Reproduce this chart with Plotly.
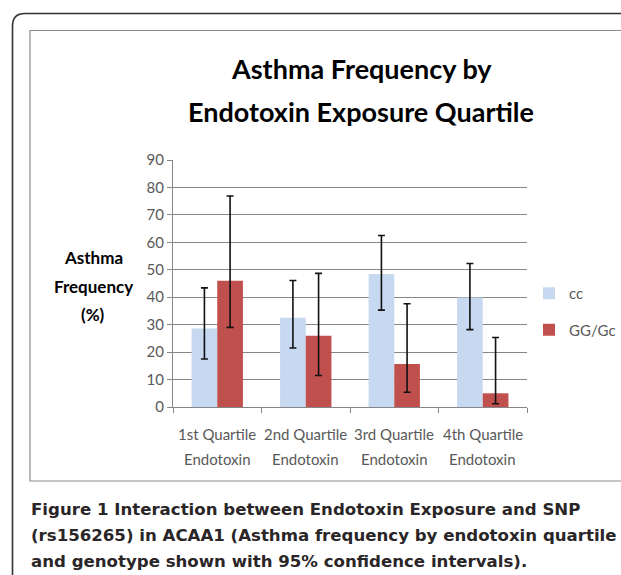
import plotly.graph_objects as go

# ---------------- data ----------------
categories = ["1st Quartile Endotoxin", "2nd Quartile Endotoxin",
              "3rd Quartile Endotoxin", "4th Quartile Endotoxin"]
tick_line1 = ["1st Quartile", "2nd Quartile", "3rd Quartile", "4th Quartile"]
tick_line2 = ["Endotoxin", "Endotoxin", "Endotoxin", "Endotoxin"]

cc_values = [28.6, 32.5, 48.5, 39.9]
cc_upper = [43.4, 46.1, 62.5, 52.3]
cc_lower = [17.5, 21.5, 35.3, 28.2]

gg_values = [46.0, 26.0, 15.7, 5.0]
gg_upper = [76.9, 48.7, 37.6, 25.3]
gg_lower = [29.0, 11.5, 5.4, 1.2]

series_names = ["cc", "GG/Gc"]
y_ticks = [0, 10, 20, 30, 40, 50, 60, 70, 80, 90]

title_lines = ["Asthma Frequency by", "Endotoxin Exposure Quartile"]
ylabel_lines = ["Asthma", "Frequency", "(%)"]
caption_lines = [
    "<b>Figure 1</b> Interaction between Endotoxin Exposure and SNP",
    "(rs156265) in ACAA1 (Asthma frequency by endotoxin quartile",
    "and genotype shown with 95% confidence intervals).",
]

# ---------------- layout geometry (pixels) ----------------
W, H = 621, 575
PL, PR, PT, PB = 173, 527, 160, 407


def xp(px):
    return (px - PL) / (PR - PL)


def yp(py):
    return (PB - py) / (PB - PT)


AXIS_GRAY = "#868686"
TEXT_GRAY = "#595959"
TICK_FONT = "Lato, Carlito, Calibri, sans-serif"
CAPTION_FONT = "DejaVu Sans, Open Sans, sans-serif"

fig = go.Figure()

fig.add_trace(go.Bar(
    name=series_names[0], x=categories, y=cc_values,
    marker=dict(color="#C6D9F1", line=dict(width=0)),
    error_y=dict(type="data", symmetric=False,
                 array=[u - v for u, v in zip(cc_upper, cc_values)],
                 arrayminus=[v - l for v, l in zip(cc_values, cc_lower)],
                 color="#111111", thickness=1.6, width=3.5),
    legendgroup="a",
))
fig.add_trace(go.Bar(
    name=series_names[1], x=categories, y=gg_values,
    marker=dict(color="#C0504D", line=dict(width=0)),
    error_y=dict(type="data", symmetric=False,
                 array=[u - v for u, v in zip(gg_upper, gg_values)],
                 arrayminus=[v - l for v, l in zip(gg_values, gg_lower)],
                 color="#111111", thickness=1.6, width=3.5),
    legendgroup="b",
))

annotations = []
# x category labels (two lines)
for c, l1, l2 in zip(categories, tick_line1, tick_line2):
    annotations.append(dict(x=c, xref="x", y=yp(434), yref="paper", text=l1,
                            showarrow=False, xanchor="center", yanchor="middle",
                            font=dict(family=TICK_FONT, size=15, color=TEXT_GRAY)))
    annotations.append(dict(x=c, xref="x", y=yp(459), yref="paper", text=l2,
                            showarrow=False, xanchor="center", yanchor="middle",
                            font=dict(family=TICK_FONT, size=15, color=TEXT_GRAY)))

# chart title
for t, py in zip(title_lines, [68, 112]):
    annotations.append(dict(x=xp(361), xref="paper", y=yp(py), yref="paper", text="<b>" + t + "</b>",
                            showarrow=False, xanchor="center", yanchor="middle",
                            font=dict(family=TICK_FONT, size=27, color="#000000")))

# y-axis title
for t, py in zip(ylabel_lines, [257, 286, 314]):
    annotations.append(dict(x=xp(93), xref="paper", y=yp(py), yref="paper", text="<b>" + t + "</b>",
                            showarrow=False, xanchor="center", yanchor="middle",
                            font=dict(family=TICK_FONT, size=17, color="#000000")))

# figure caption
for t, py in zip(caption_lines, [509, 535, 561]):
    annotations.append(dict(x=xp(29), xref="paper", y=yp(py), yref="paper", text=t,
                            showarrow=False, xanchor="left", yanchor="middle",
                            font=dict(family=CAPTION_FONT, size=16.6, weight="bold",
                                      color="#2A2627")))

shapes = [
    # outer rounded frame (left + top edges)
    dict(type="path", xref="paper", yref="paper",
         path=(f"M {xp(12.5)} {yp(580)} L {xp(12.5)} {yp(26)} "
               f"Q {xp(12.5)} {yp(13.5)} {xp(25)} {yp(13.5)} L {xp(630)} {yp(13.5)}"),
         line=dict(color="#333333", width=1.6)),
    # inner chart box
    dict(type="rect", xref="paper", yref="paper",
         x0=xp(30), x1=xp(635), y0=yp(481), y1=yp(30.5),
         line=dict(color="#8C8C8C", width=1.2)),
]

fig.update_layout(
    width=W, height=H,
    margin=dict(l=PL, r=W - PR, t=PT, b=H - PB, pad=0, autoexpand=False),
    paper_bgcolor="white", plot_bgcolor="white",
    barmode="group", bargap=0.42, bargroupgap=0.0,
    showlegend=True,
    legend=dict(x=xp(529), y=yp(277), xanchor="left", yanchor="top",
                font=dict(family=TICK_FONT, size=15, color=TEXT_GRAY),
                tracegroupgap=14, itemwidth=30,
                bgcolor="rgba(0,0,0,0)"),
    annotations=annotations,
    shapes=shapes,
    xaxis=dict(showticklabels=False, tickson="boundaries", ticks="outside",
               ticklen=5, tickcolor=AXIS_GRAY, showline=True, linecolor=AXIS_GRAY,
               linewidth=1, showgrid=False, zeroline=False, fixedrange=True),
    yaxis=dict(range=[0, 90], tickvals=y_ticks, ticks="outside", ticklen=5,
               tickcolor=AXIS_GRAY, showline=True, linecolor=AXIS_GRAY, linewidth=1,
               showgrid=True, gridcolor=AXIS_GRAY, gridwidth=1, zeroline=False,
               tickfont=dict(family=TICK_FONT, size=15, color=TEXT_GRAY),
               fixedrange=True),
)

fig.write_html("out.html", config={"displayModeBar": False},
               post_script="document.body.style.margin='0';document.body.style.overflow='hidden';")
